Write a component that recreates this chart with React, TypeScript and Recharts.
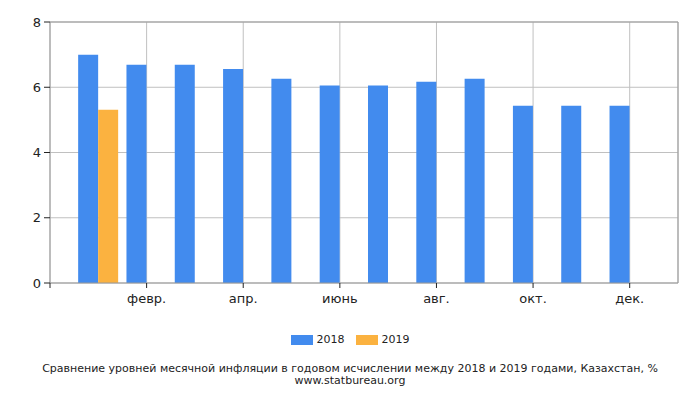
import React from "react";
import { BarChart, Bar, XAxis, YAxis, CartesianGrid, ReferenceLine } from "recharts";

const months = ["янв.", "февр.", "март", "апр.", "май", "июнь", "июль", "авг.", "сент.", "окт.", "нояб.", "дек."];
const values2018 = [7.0, 6.69, 6.69, 6.56, 6.26, 6.05, 6.05, 6.17, 6.26, 5.43, 5.43, 5.43];
const values2019 = [5.31, null, null, null, null, null, null, null, null, null, null, null];
const seriesNames = ["2018", "2019"];
const seriesColors = ["#428bee", "#fbb240"];
const yTicks = [0, 2, 4, 6, 8];
const xTicks = [0, 2, 4, 6, 8, 10, 12];
const title = "Сравнение уровней месячной инфляции в годовом исчислении между 2018 и 2019 годами, Казахстан, %";
const source = "www.statbureau.org";

const data = months.map((m, i) => ({
  idx: i + 1,
  month: m,
  y2018: values2018[i],
  y2019: values2019[i],
}));

const font = "'DejaVu Sans', Verdana, sans-serif";

function App() {
  return (
    <div style={{ position: "absolute", left: 0, top: 0, width: 700, height: 400, fontFamily: font }}>
      <BarChart
        width={700}
        height={400}
        data={data}
        barGap={0}
        margin={{ top: 22, right: 22, left: 0, bottom: 87 }}
      >
        <CartesianGrid stroke="#c0c0c0" strokeWidth={1} />
        <XAxis
          dataKey="idx"
          type="number"
          domain={[0, 13]}
          ticks={xTicks}
          interval={0}
          tickFormatter={(v) => (v > 0 ? months[v - 1] : "")}
          stroke="#999"
          tickLine={{ stroke: "#222" }}
          tickSize={5}
          tickMargin={6}
          height={30}
          tick={{ fill: "#222", fontSize: 13, fontFamily: font }}
        />
        <YAxis
          domain={[0, 8]}
          ticks={yTicks}
          width={50}
          stroke="#999"
          tickLine={{ stroke: "#222" }}
          tickSize={6}
          tickMargin={3}
          tick={{ fill: "#222", fontSize: 13, fontFamily: font }}
        />
        <ReferenceLine y={8} stroke="#999" />
        <ReferenceLine x={13} stroke="#999" />
        <Bar dataKey="y2018" name={seriesNames[0]} fill={seriesColors[0]} barSize={20} isAnimationActive={false} />
        <Bar dataKey="y2019" name={seriesNames[1]} fill={seriesColors[1]} barSize={20} isAnimationActive={false} />
      </BarChart>
      <div
        style={{
          position: "absolute",
          top: 333,
          left: 0,
          width: 700,
          display: "flex",
          justifyContent: "center",
          fontSize: 11,
          lineHeight: "14px",
          color: "#222",
        }}
      >
        {seriesNames.map((n, i) => (
          <div key={n} style={{ display: "flex", alignItems: "center", marginLeft: i > 0 ? 11 : 0 }}>
            <span style={{ display: "inline-block", width: 22, height: 10, background: seriesColors[i], marginRight: 4 }} />
            <span>{n}</span>
          </div>
        ))}
      </div>
      <div
        style={{
          position: "absolute",
          top: 363,
          left: 0,
          width: 700,
          textAlign: "center",
          fontSize: 11,
          lineHeight: "12px",
          color: "#222",
        }}
      >
        <div>{title}</div>
        <div>{source}</div>
      </div>
    </div>
  );
}

export default App;
